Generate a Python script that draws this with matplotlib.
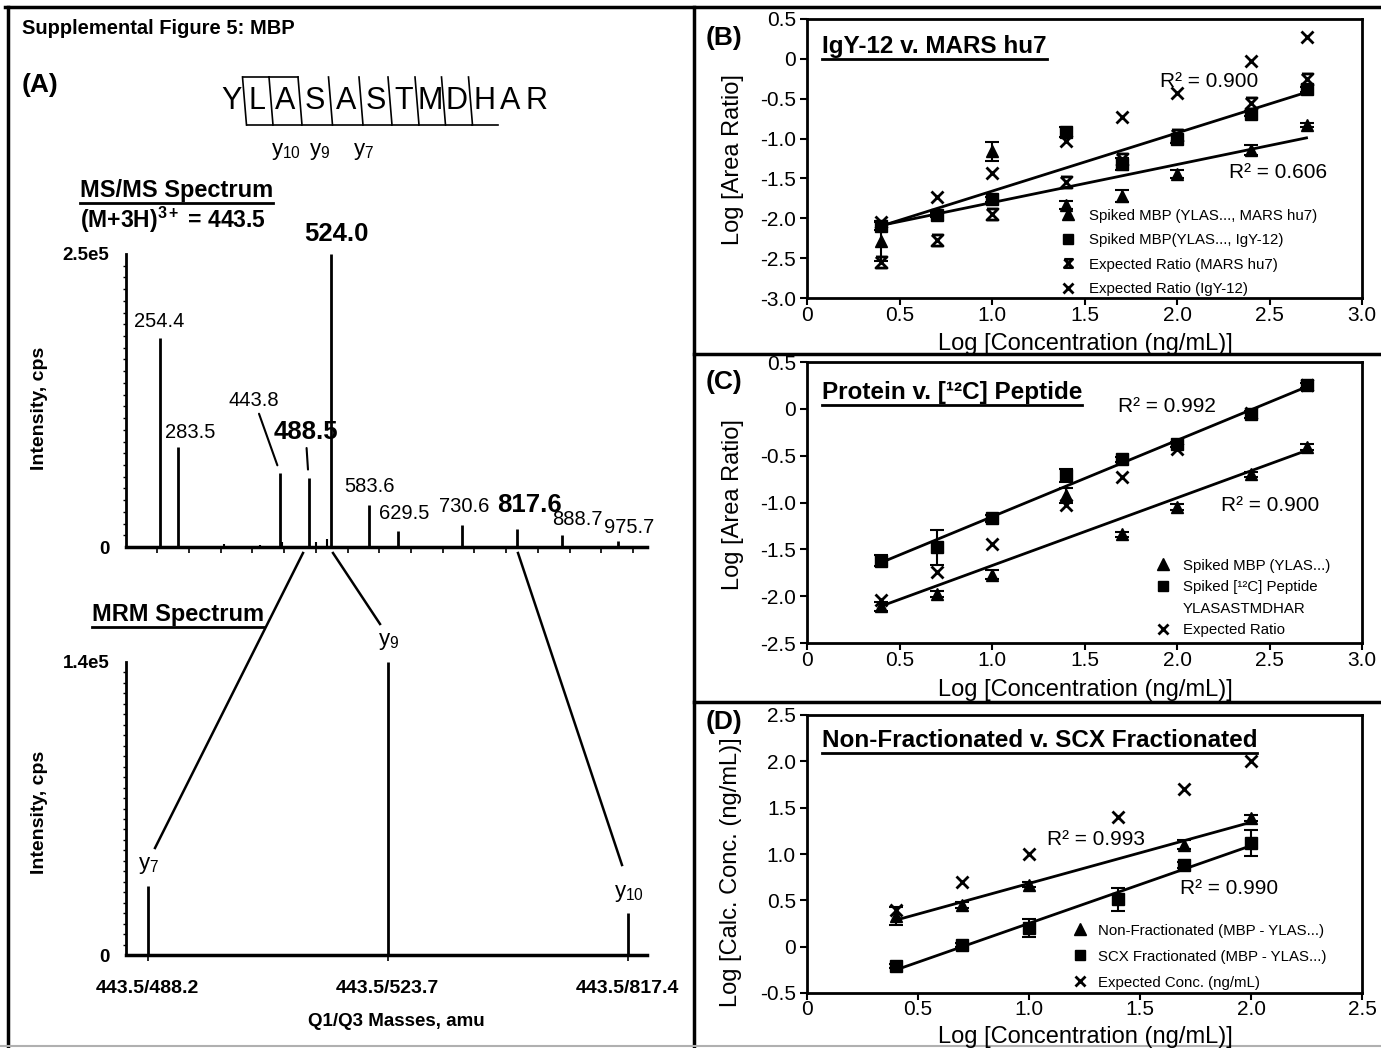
import matplotlib
matplotlib.use('Agg')
import matplotlib.pyplot as plt
import numpy as np
from matplotlib.lines import Line2D
from matplotlib.path import Path

W, H = 1381, 1048

plt.rcParams['font.family'] = ['Liberation Sans', 'DejaVu Sans']
plt.rcParams['mathtext.fontset'] = 'custom'
plt.rcParams['mathtext.rm'] = 'Liberation Sans'
plt.rcParams['mathtext.it'] = 'Liberation Sans:italic'
plt.rcParams['mathtext.bf'] = 'Liberation Sans:bold'

# ---------------- data ----------------
# (A) MS/MS spectrum
ms_mz = [254.4, 283.5, 443.8, 488.5, 524.0, 583.6, 629.5, 730.6, 817.6, 888.7, 975.7]
ms_int = [1.78e5, 0.85e5, 0.63e5, 0.59e5, 2.5e5, 0.355e5, 0.14e5, 0.19e5, 0.15e5, 0.10e5, 0.05e5]
ms_bold = [False, False, False, True, True, False, False, False, True, False, False]
minor_mz = [256.0, 354.7, 386.4, 411.6, 446.0, 500.5, 507.6, 518.4, 783.4, 873.5]
minor_int = [0.004e5, 0.023e5, 0.005e5, 0.017e5, 0.045e5, 0.04e5, 0.01e5, 0.065e5, 0.012e5, 0.012e5]

# (A) MRM spectrum
mrm_labels = ['443.5/488.2', '443.5/523.7', '443.5/817.4']
mrm_ions = ['y$_{7}$', 'y$_{9}$', 'y$_{10}$']
mrm_int = [0.33e5, 1.4e5, 0.2e5]

peptide = 'YLASASTMDHAR'

# (B)
conc = [0.4, 0.7, 1.0, 1.4, 1.7, 2.0, 2.4, 2.7]
b_mars = [-2.29, -1.95, -1.16, -1.83, -1.72, -1.45, -1.14, -0.83]
b_mars_err = [0.25, 0.03, 0.12, 0.05, 0.07, 0.05, 0.06, 0.03]
b_igy = [-2.10, -1.96, -1.76, -0.92, -1.32, -1.01, -0.69, -0.38]
b_igy_err = [0.05, 0.03, 0.03, 0.06, 0.08, 0.05, 0.03, 0.03]
b_exp_mars = [-2.55, -2.27, -1.95, -1.55, -1.25, -0.95, -0.55, -0.25]
b_exp_igy = [-2.05, -1.73, -1.43, -1.03, -0.73, -0.43, -0.03, 0.27]

# (C)
c_mbp = [-2.11, -1.98, -1.77, -0.92, -1.34, -1.05, -0.70, -0.41]
c_mbp_err = [0.05, 0.03, 0.05, 0.08, 0.03, 0.03, 0.03, 0.03]
c_pep = [-1.62, -1.48, -1.17, -0.71, -0.54, -0.38, -0.06, 0.25]
c_pep_err = [0.06, 0.19, 0.04, 0.07, 0.03, 0.03, 0.04, 0.03]
c_exp = [-2.04, -1.74, -1.44, -1.03, -0.73, -0.43, -0.04, 0.25]

# (D)
d_conc = [0.4, 0.7, 1.0, 1.4, 1.7, 2.0]
d_nonfrac = [0.33, 0.45, 0.67, np.nan, 1.10, 1.39]
d_nonfrac_err = [0.10, 0.03, 0.03, 0.0, 0.05, 0.03]
d_scx = [-0.21, 0.015, 0.20, 0.51, 0.88, 1.12]
d_scx_err = [0.02, 0.02, 0.10, 0.12, 0.03, 0.14]
d_exp = [0.4, 0.7, 1.0, 1.4, 1.7, 2.0]

# ---------------- helpers ----------------
fig = plt.figure(figsize=(W / 100, H / 100), dpi=100)


def px_axes(left, top, right, bottom):
    return fig.add_axes([left / W, 1 - bottom / H, (right - left) / W, (bottom - top) / H])


def ftext(x, y, s, **kw):
    return fig.text(x / W, 1 - y / H, s, **kw)


def fline(xs, ys, **kw):
    kw.setdefault('color', 'k')
    fig.add_artist(Line2D([x / W for x in xs], [1 - y / H for y in ys], **kw))


underlined = []

# frame lines
fline([5, W], [7, 7], lw=2.5)
fline([7.5, 7.5], [7, H], lw=2.5)
fline([694, 694], [7, H], lw=2.5)
fline([694, W], [354, 354], lw=2.5)
fline([694, W], [702, 702], lw=2.5)
fline([0, W], [1045.5, 1045.5], color='#b0b0b0', lw=1.5)

# ---------------- panel A ----------------
ftext(22, 28, 'Supplemental Figure 5: MBP', fontsize=14.5, fontweight='bold', va='center')
ftext(22, 85, '(A)', fontsize=19, fontweight='bold', va='center')

# peptide with fragmentation marks
letter_x = [232, 257, 285, 315, 346, 376, 404, 430, 457, 484, 510, 536]
for ch, lx in zip(peptide, letter_x):
    ftext(lx, 101, ch, fontsize=22, ha='center', va='center')
cuts = [(letter_x[i] + letter_x[i + 1]) / 2 for i in range(9)]
for i, cx in enumerate(cuts):
    fline([cx - 2, cx + 2], [77, 125], lw=1.2)
    nxt = cuts[i + 1] if i + 1 < len(cuts) else cx + 26
    fline([cx + 2, nxt + 1], [125, 125], lw=1.2)
    if i < 2:
        fline([cx - 2, nxt - 2], [77, 77], lw=1.2)
for s, lx in [('y$_{10}$', 286), ('y$_{9}$', 320), ('y$_{7}$', 364)]:
    ftext(lx, 151, s, fontsize=16, ha='center', va='center')

t = ftext(80, 190, 'MS/MS Spectrum', fontsize=17, fontweight='bold', va='center')
underlined.append(t)
ftext(80, 220, r'(M+3H)$^{\mathbf{3+}}$ = 443.5', fontsize=16.5, fontweight='bold', va='center')

ax_ms = px_axes(126, 254, 647, 547)
ax_ms.vlines(ms_mz, 0, ms_int, color='k', lw=2)
ax_ms.vlines(minor_mz, 0, minor_int, color='k', lw=1.5)
ax_ms.set_xlim(200.8, 1022)
ax_ms.set_ylim(0, 2.5e5)
label_off = [(-1, 17), (12, 15), (-26, 73), (-3, 46), (5, 20), (1, 19),
             (6, 17), (2, 18), (12, 24), (15, 16), (11, 14)]
for mz, inten, bold, off in zip(ms_mz, ms_int, ms_bold, label_off):
    lead = off[1] > 40
    ax_ms.annotate(f'{mz:.1f}', xy=(mz, inten), xytext=off, textcoords='offset pixels',
                   ha='center', va='center', fontsize=18.5 if bold else 14.5,
                   fontweight='bold' if bold else 'normal',
                   arrowprops=dict(arrowstyle='-', lw=1.5, shrinkA=1, shrinkB=6) if lead else None)
ax_ms.set_xticks(np.arange(250, 1001, 50))
ax_ms.set_xticklabels([])
ax_ms.set_yticks([0, 2.5e5])
ax_ms.set_yticklabels(['0', '2.5e5'], fontweight='bold', fontsize=13.5)
ax_ms.set_yticks(np.arange(0, 2.5e5, 0.1e5), minor=True)
ax_ms.tick_params(axis='x', direction='out', length=4, width=1.2)
ax_ms.tick_params(axis='y', which='major', length=0, pad=12)
ax_ms.tick_params(axis='y', which='minor', length=2, width=1)
for sp in ['top', 'right']:
    ax_ms.spines[sp].set_visible(False)
ax_ms.spines['left'].set_linewidth(2)
ax_ms.spines['bottom'].set_linewidth(2.5)
ax_ms.patch.set_alpha(0)
ftext(40, 408, 'Intensity, cps', rotation=90, fontsize=14, fontweight='bold',
      ha='center', va='center')

t = ftext(92, 614, 'MRM Spectrum', fontsize=17, fontweight='bold', va='center')
underlined.append(t)

ax_mrm = px_axes(126, 662, 647, 955)
ax_mrm.vlines(range(len(mrm_int)), 0, mrm_int, color='k', lw=2)
for i, (lab, inten) in enumerate(zip(mrm_ions, mrm_int)):
    ax_mrm.annotate(lab, xy=(i, inten), xytext=(1, 20), textcoords='offset pixels',
                    ha='center', va='center', fontsize=16)
ax_mrm.set_xlim(-0.09, 2.08)
ax_mrm.set_ylim(0, 1.4e5)
ax_mrm.set_xticks(range(len(mrm_labels)))
ax_mrm.set_xticklabels(mrm_labels, fontweight='bold', fontsize=14)
ax_mrm.set_yticks([0, 1.4e5])
ax_mrm.set_yticklabels(['0', '1.4e5'], fontweight='bold', fontsize=13.5)
ax_mrm.set_yticks(np.arange(0, 1.4e5, 0.05e5), minor=True)
ax_mrm.tick_params(axis='x', direction='out', length=4, width=1.2, pad=14)
ax_mrm.tick_params(axis='y', which='major', length=0, pad=12)
ax_mrm.tick_params(axis='y', which='minor', length=2, width=1)
for sp in ['top', 'right']:
    ax_mrm.spines[sp].set_visible(False)
ax_mrm.spines['left'].set_linewidth(2)
ax_mrm.spines['bottom'].set_linewidth(2.5)
ax_mrm.patch.set_alpha(0)
ftext(40, 812, 'Intensity, cps', rotation=90, fontsize=14, fontweight='bold',
      ha='center', va='center')
ftext(396, 1022, 'Q1/Q3 Masses, amu', fontsize=13.5, fontweight='bold',
      ha='center', va='center')

# connectors MS/MS -> MRM
fline([303, 155], [553, 848], lw=1.8)
fline([333, 380], [553, 624], lw=1.8)
fline([518, 622], [553, 865], lw=1.8)

# ---------------- panels B, C, D ----------------
hourglass = Path([(-1, 1), (1, 1), (-1, -1), (1, -1), (-1, 1)])
TICK = 15
LAB = 17
LEG = 10.8
RSQ = 15
TTL = 17.5
LEG_PX = LEG * 100 / 72


def style_axes(ax, xmax, ylim, yticks, ylabels, pad=1):
    ax.set_xlim(0, xmax)
    ax.set_ylim(*ylim)
    xt = np.arange(0, xmax + 0.01, 0.5)
    ax.set_xticks(xt)
    ax.set_xticklabels(['0' if v == 0 else f'{v:.1f}' for v in xt], fontsize=TICK)
    ax.set_yticks(yticks)
    ax.set_yticklabels(ylabels, fontsize=TICK)
    ax.tick_params(direction='out', length=5, width=1.5)
    ax.tick_params(axis='x', pad=pad)
    ax.tick_params(axis='y', pad=3)
    for sp in ax.spines.values():
        sp.set_linewidth(2)


def fit_line(ax, x, y):
    x = np.asarray(x, float)
    y = np.asarray(y, float)
    ok = ~np.isnan(y)
    m, b = np.polyfit(x[ok], y[ok], 1)
    xx = np.array([x[ok].min(), x[ok].max()])
    ax.plot(xx, m * xx + b, color='k', lw=2)


def series(ax, x, y, err, marker, ms):
    ax.errorbar(x, y, yerr=err, fmt=marker, ms=ms, color='k', mfc='k',
                elinewidth=1.5, capsize=5, capthick=1.5)


def legend(ax, entries, box, mark_x, first_y, pitch, gap):
    # box = (left, top, right, bottom) of the axes in pixels
    handles = []
    labels = []
    for mk, ms, lab in entries:
        if mk is None:
            handles.append(Line2D([], [], ls='none', marker=None))
        elif mk == 'x' or mk is hourglass:
            handles.append(Line2D([], [], ls='none', marker=mk, ms=ms, color='k',
                                  mfc='none', mew=2))
        else:
            handles.append(Line2D([], [], ls='none', marker=mk, ms=ms, color='k'))
        labels.append(lab)
    row = 0.97 * LEG_PX
    ax_x = (mark_x - 0.4 * LEG_PX - box[0]) / (box[2] - box[0])
    ax_y = 1 - (first_y - 0.5 * row - box[1]) / (box[3] - box[1])
    ax.legend(handles, labels, loc='upper left', bbox_to_anchor=(ax_x, ax_y), frameon=False,
              prop={'size': LEG}, handlelength=0.8, handletextpad=(gap - 0.4 * LEG_PX) / LEG_PX,
              labelspacing=pitch / LEG_PX - 0.97, borderpad=0, borderaxespad=0)


def ylabel_px(x, y, s):
    ftext(x, y, s, rotation=90, fontsize=LAB, ha='center', va='center')


def xlabel_px(x, y_bottom, s):
    ftext(x, y_bottom, s, fontsize=LAB, ha='center', va='bottom')


# (B)
boxB = (807, 19, 1362, 298)
axB = px_axes(*boxB)
style_axes(axB, 3.0, (-3.0, 0.5), np.arange(-3.0, 0.51, 0.5),
           ['-3.0', '-2.5', '-2.0', '-1.5', '-1.0', '-0.5', '0', '0.5'])
fit_line(axB, conc, b_igy)
fit_line(axB, conc, b_mars)
series(axB, conc, b_mars, b_mars_err, '^', 9)
series(axB, conc, b_igy, b_igy_err, 's', 8)
axB.plot(conc, b_exp_mars, ls='none', marker=hourglass, ms=8, color='k', mfc='none', mew=2)
axB.plot(conc, b_exp_igy, ls='none', marker='x', ms=9, color='k', mew=2)
axB.text(1.91, -0.29, 'R² = 0.900', fontsize=RSQ, va='center')
axB.text(2.28, -1.42, 'R² = 0.606', fontsize=RSQ, va='center')
underlined.append(axB.text(0.027, 0.903, 'IgY-12 v. MARS hu7', transform=axB.transAxes,
                           fontsize=TTL, fontweight='bold', va='center'))
legend(axB, [('^', 8, 'Spiked MBP (YLAS..., MARS hu7)'),
             ('s', 7, 'Spiked MBP(YLAS..., IgY-12)'),
             (hourglass, 6, 'Expected Ratio (MARS hu7)'),
             ('x', 7, 'Expected Ratio (IgY-12)')], boxB, 1068, 216, 25, 21)
ftext(724, 38, '(B)', fontsize=19, fontweight='bold', ha='center', va='center')
ylabel_px(733, 160, 'Log [Area Ratio]')
xlabel_px(1085, 355, 'Log [Concentration (ng/mL)]')

# (C)
boxC = (807, 362, 1362, 643)
axC = px_axes(*boxC)
style_axes(axC, 3.0, (-2.5, 0.5), np.arange(-2.5, 0.51, 0.5),
           ['-2.5', '-2.0', '-1.5', '-1.0', '-0.5', '0', '0.5'])
fit_line(axC, conc, c_pep)
fit_line(axC, conc, c_mbp)
series(axC, conc, c_mbp, c_mbp_err, '^', 9)
series(axC, conc, c_pep, c_pep_err, 's', 8)
axC.plot(conc, c_exp, ls='none', marker='x', ms=9, color='k', mew=2)
axC.text(1.68, 0.02, 'R² = 0.992', fontsize=RSQ, va='center')
axC.text(2.24, -1.03, 'R² = 0.900', fontsize=RSQ, va='center')
underlined.append(axC.text(0.027, 0.893, 'Protein v. [¹²C] Peptide', transform=axC.transAxes,
                           fontsize=TTL, fontweight='bold', va='center'))
legend(axC, [('^', 8, 'Spiked MBP (YLAS...)'),
             ('s', 7, 'Spiked [¹²C] Peptide'),
             (None, 7, 'YLASASTMDHAR'),
             ('x', 7, 'Expected Ratio')], boxC, 1163, 566, 22, 20)
ftext(724, 382, '(C)', fontsize=19, fontweight='bold', ha='center', va='center')
ylabel_px(733, 505, 'Log [Area Ratio]')
xlabel_px(1085, 701, 'Log [Concentration (ng/mL)]')

# (D)
boxD = (807, 715, 1362, 993)
axD = px_axes(*boxD)
style_axes(axD, 2.5, (-0.5, 2.5), np.arange(-0.5, 2.51, 0.5),
           ['-0.5', '0', '0.5', '1.0', '1.5', '2.0', '2.5'], pad=0)
fit_line(axD, d_conc, d_nonfrac)
fit_line(axD, d_conc, d_scx)
series(axD, d_conc, d_nonfrac, d_nonfrac_err, '^', 9)
series(axD, d_conc, d_scx, d_scx_err, 's', 8)
axD.plot(d_conc, d_exp, ls='none', marker='x', ms=9, color='k', mew=2)
axD.text(1.08, 1.156, 'R² = 0.993', fontsize=RSQ, va='center')
axD.text(1.68, 0.63, 'R² = 0.990', fontsize=RSQ, va='center')
underlined.append(axD.text(0.027, 0.907, 'Non-Fractionated v. SCX Fractionated',
                           transform=axD.transAxes, fontsize=TTL, fontweight='bold',
                           va='center'))
legend(axD, [('^', 8, 'Non-Fractionated (MBP - YLAS...)'),
             ('s', 7, 'SCX Fractionated (MBP - YLAS...)'),
             ('x', 7, 'Expected Conc. (ng/mL)')], boxD, 1080, 931, 26.5, 18)
ftext(724, 722, '(D)', fontsize=19, fontweight='bold', ha='center', va='center')
ylabel_px(731, 872, 'Log [Calc. Conc. (ng/mL)]')
xlabel_px(1085, 1048, 'Log [Concentration (ng/mL)]')

# underline the headings
fig.canvas.draw()
r = fig.canvas.get_renderer()
for t in underlined:
    bb = t.get_window_extent(r)
    y = bb.y0 - 1
    fig.add_artist(Line2D([bb.x0 / W, bb.x1 / W], [y / H, y / H], color='k', lw=2))

fig.savefig('out.png', dpi=100)
